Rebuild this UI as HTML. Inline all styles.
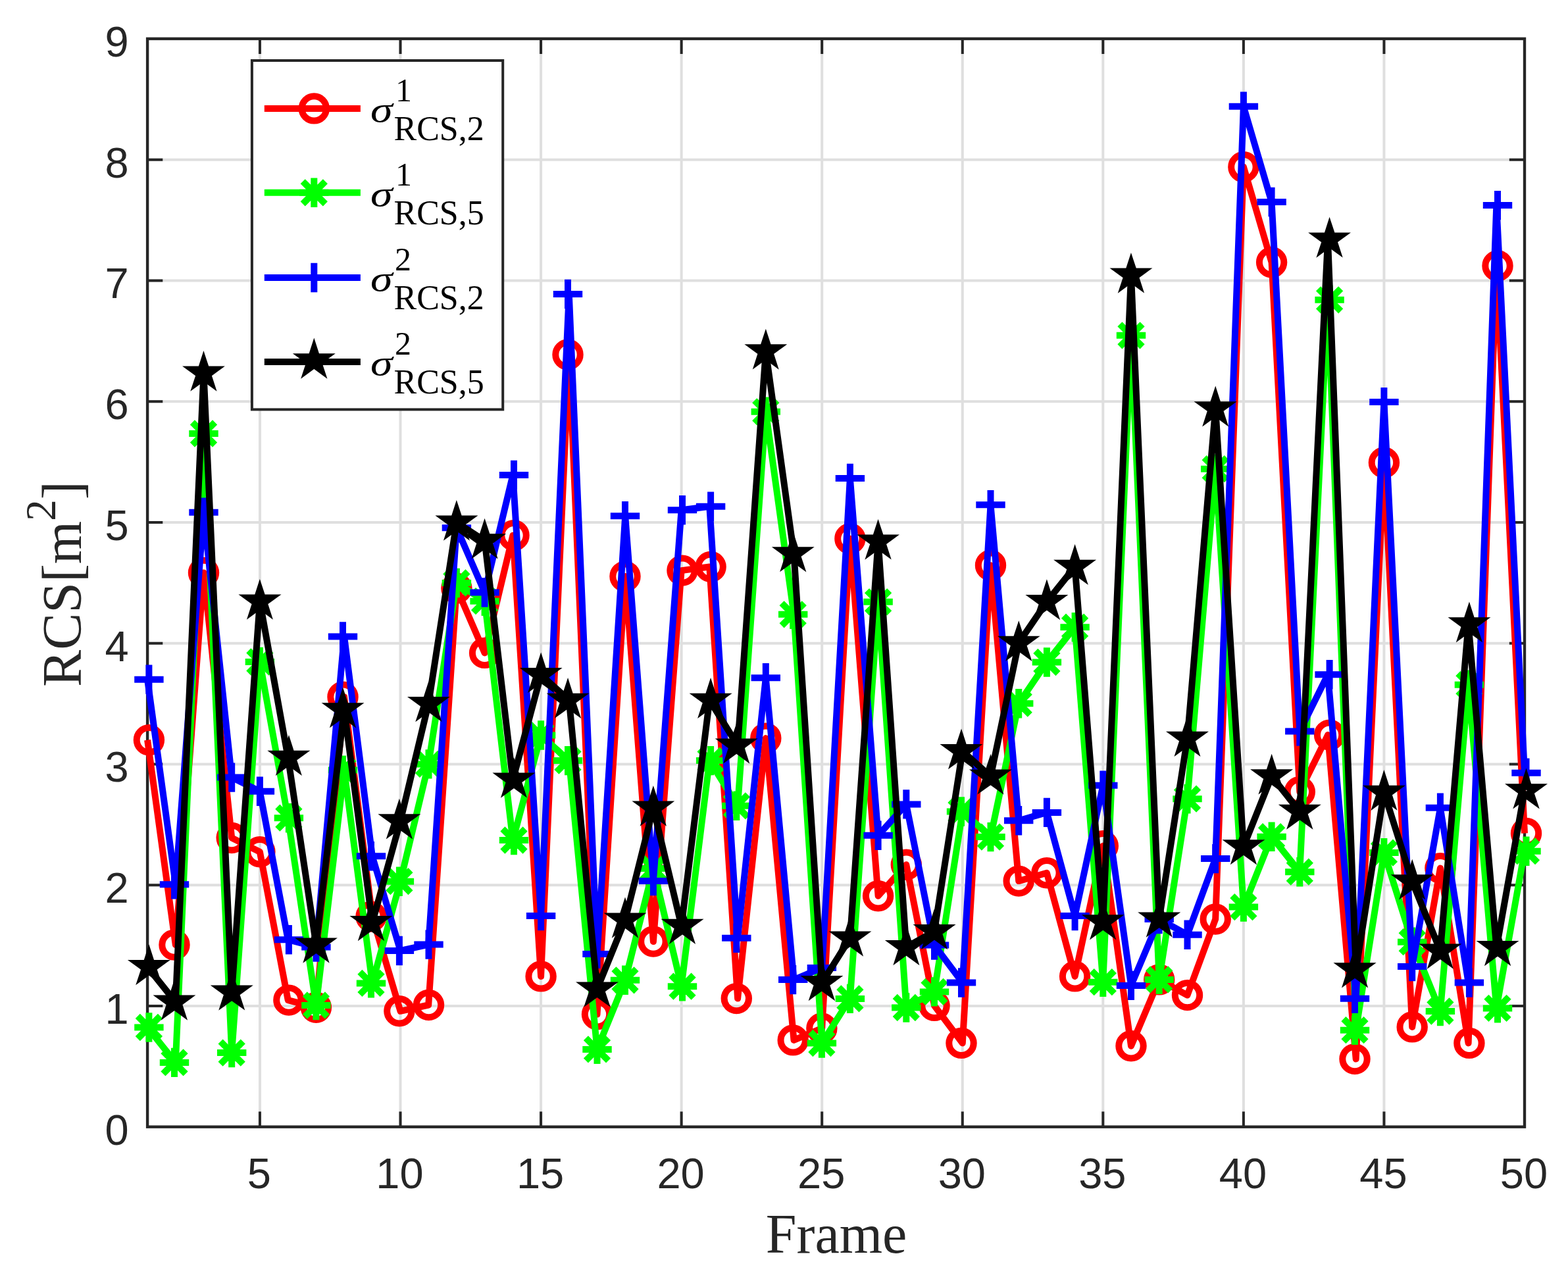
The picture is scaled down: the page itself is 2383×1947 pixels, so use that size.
<!DOCTYPE html>
<html><head><meta charset="utf-8"><title>RCS per frame</title>
<style>html,body{margin:0;padding:0;background:#fff}body{width:2383px;height:1947px;overflow:hidden}svg{display:block}text{fill:#262626}.tk{font-family:"Liberation Sans",sans-serif;font-size:65px}.lb{font-family:"Liberation Serif",serif;font-size:84px}.lg{font-family:"Liberation Serif",serif;fill:#000}</style>
</head><body>
<svg width="2383" height="1947" viewBox="0 0 2383 1947">
<rect x="0" y="0" width="2383" height="1947" fill="#fff"/>
<path d="M394.95 58.90V1712.70M608.51 58.90V1712.70M822.07 58.90V1712.70M1035.63 58.90V1712.70M1249.19 58.90V1712.70M1462.76 58.90V1712.70M1676.32 58.90V1712.70M1889.88 58.90V1712.70M2103.44 58.90V1712.70M224.10 1528.94H2317.00M224.10 1345.19H2317.00M224.10 1161.43H2317.00M224.10 977.68H2317.00M224.10 793.92H2317.00M224.10 610.17H2317.00M224.10 426.41H2317.00M224.10 242.66H2317.00" stroke="#dfdfdf" stroke-width="4" fill="none"/>
<path d="M394.95 1712.70v-23.20M394.95 58.90v23.20M608.51 1712.70v-23.20M608.51 58.90v23.20M822.07 1712.70v-23.20M822.07 58.90v23.20M1035.63 1712.70v-23.20M1035.63 58.90v23.20M1249.19 1712.70v-23.20M1249.19 58.90v23.20M1462.76 1712.70v-23.20M1462.76 58.90v23.20M1676.32 1712.70v-23.20M1676.32 58.90v23.20M1889.88 1712.70v-23.20M1889.88 58.90v23.20M2103.44 1712.70v-23.20M2103.44 58.90v23.20M224.10 1528.94h23.20M2317.00 1528.94h-23.20M224.10 1345.19h23.20M2317.00 1345.19h-23.20M224.10 1161.43h23.20M2317.00 1161.43h-23.20M224.10 977.68h23.20M2317.00 977.68h-23.20M224.10 793.92h23.20M2317.00 793.92h-23.20M224.10 610.17h23.20M2317.00 610.17h-23.20M224.10 426.41h23.20M2317.00 426.41h-23.20M224.10 242.66h23.20M2317.00 242.66h-23.20" stroke="#262626" stroke-width="4" fill="none"/>
<rect x="224.10" y="58.90" width="2092.90" height="1653.80" fill="none" stroke="#262626" stroke-width="4.4"/>
<g>
<polyline points="224.1,1124.7 266.8,1436.1 309.5,870.5 352.2,1273.5 394.9,1294.7 437.7,1520.1 480.4,1531.3 523.1,1059.3 565.8,1393.1 608.5,1536.8 651.2,1527.5 693.9,894.1 736.6,992.4 779.4,813.8 822.1,1483.9 864.8,538.9 907.5,1541.8 950.2,876.1 992.9,1431.0 1035.6,867.1 1078.3,861.5 1121.1,1517.6 1163.8,1122.1 1206.5,1580.9 1249.2,1562.9 1291.9,818.7 1334.6,1361.7 1377.3,1314.3 1420.0,1528.4 1462.8,1585.4 1505.5,859.2 1548.2,1339.1 1590.9,1326.8 1633.6,1483.9 1676.3,1285.7 1719.0,1589.8 1761.7,1488.9 1804.5,1512.6 1847.2,1397.0 1889.9,253.7 1932.6,398.8 1975.3,1203.5 2018.0,1117.1 2060.7,1609.6 2103.4,703.0 2146.2,1560.9 2188.9,1319.6 2231.6,1585.4 2274.3,404.0 2317.0,1266.5" fill="none" stroke="#ff0000" stroke-width="10.0" stroke-linejoin="round" stroke-linecap="butt"/>
<circle cx="226.4" cy="1124.7" r="18.7" fill="none" stroke="#ff0000" stroke-width="10.0"/>
<circle cx="265.0" cy="1436.1" r="18.7" fill="none" stroke="#ff0000" stroke-width="10.0"/>
<circle cx="309.5" cy="870.5" r="18.7" fill="none" stroke="#ff0000" stroke-width="10.0"/>
<circle cx="352.2" cy="1273.5" r="18.7" fill="none" stroke="#ff0000" stroke-width="10.0"/>
<circle cx="394.9" cy="1294.7" r="18.7" fill="none" stroke="#ff0000" stroke-width="10.0"/>
<circle cx="438.9" cy="1520.1" r="18.7" fill="none" stroke="#ff0000" stroke-width="10.0"/>
<circle cx="480.4" cy="1531.3" r="18.7" fill="none" stroke="#ff0000" stroke-width="10.0"/>
<circle cx="521.0" cy="1059.3" r="18.7" fill="none" stroke="#ff0000" stroke-width="10.0"/>
<circle cx="564.0" cy="1393.1" r="18.7" fill="none" stroke="#ff0000" stroke-width="10.0"/>
<circle cx="606.9" cy="1536.8" r="18.7" fill="none" stroke="#ff0000" stroke-width="10.0"/>
<circle cx="651.5" cy="1527.5" r="18.7" fill="none" stroke="#ff0000" stroke-width="10.0"/>
<circle cx="693.9" cy="894.1" r="18.7" fill="none" stroke="#ff0000" stroke-width="10.0"/>
<circle cx="736.6" cy="992.4" r="18.7" fill="none" stroke="#ff0000" stroke-width="10.0"/>
<circle cx="781.0" cy="813.8" r="18.7" fill="none" stroke="#ff0000" stroke-width="10.0"/>
<circle cx="822.1" cy="1483.9" r="18.7" fill="none" stroke="#ff0000" stroke-width="10.0"/>
<circle cx="863.0" cy="538.9" r="18.7" fill="none" stroke="#ff0000" stroke-width="10.0"/>
<circle cx="907.5" cy="1541.8" r="18.7" fill="none" stroke="#ff0000" stroke-width="10.0"/>
<circle cx="950.0" cy="876.1" r="18.7" fill="none" stroke="#ff0000" stroke-width="10.0"/>
<circle cx="992.9" cy="1431.0" r="18.7" fill="none" stroke="#ff0000" stroke-width="10.0"/>
<circle cx="1037.0" cy="867.1" r="18.7" fill="none" stroke="#ff0000" stroke-width="10.0"/>
<circle cx="1080.1" cy="861.5" r="18.7" fill="none" stroke="#ff0000" stroke-width="10.0"/>
<circle cx="1119.3" cy="1517.6" r="18.7" fill="none" stroke="#ff0000" stroke-width="10.0"/>
<circle cx="1163.8" cy="1122.1" r="18.7" fill="none" stroke="#ff0000" stroke-width="10.0"/>
<circle cx="1205.2" cy="1580.9" r="18.7" fill="none" stroke="#ff0000" stroke-width="10.0"/>
<circle cx="1248.9" cy="1562.9" r="18.7" fill="none" stroke="#ff0000" stroke-width="10.0"/>
<circle cx="1291.9" cy="818.7" r="18.7" fill="none" stroke="#ff0000" stroke-width="10.0"/>
<circle cx="1334.6" cy="1361.7" r="18.7" fill="none" stroke="#ff0000" stroke-width="10.0"/>
<circle cx="1377.3" cy="1314.3" r="18.7" fill="none" stroke="#ff0000" stroke-width="10.0"/>
<circle cx="1420.0" cy="1528.4" r="18.7" fill="none" stroke="#ff0000" stroke-width="10.0"/>
<circle cx="1461.0" cy="1585.4" r="18.7" fill="none" stroke="#ff0000" stroke-width="10.0"/>
<circle cx="1505.5" cy="859.2" r="18.7" fill="none" stroke="#ff0000" stroke-width="10.0"/>
<circle cx="1548.2" cy="1339.1" r="18.7" fill="none" stroke="#ff0000" stroke-width="10.0"/>
<circle cx="1590.9" cy="1326.8" r="18.7" fill="none" stroke="#ff0000" stroke-width="10.0"/>
<circle cx="1633.6" cy="1483.9" r="18.7" fill="none" stroke="#ff0000" stroke-width="10.0"/>
<circle cx="1676.3" cy="1285.7" r="18.7" fill="none" stroke="#ff0000" stroke-width="10.0"/>
<circle cx="1719.0" cy="1589.8" r="18.7" fill="none" stroke="#ff0000" stroke-width="10.0"/>
<circle cx="1761.7" cy="1488.9" r="18.7" fill="none" stroke="#ff0000" stroke-width="10.0"/>
<circle cx="1804.5" cy="1512.6" r="18.7" fill="none" stroke="#ff0000" stroke-width="10.0"/>
<circle cx="1847.2" cy="1397.0" r="18.7" fill="none" stroke="#ff0000" stroke-width="10.0"/>
<circle cx="1889.9" cy="253.7" r="18.7" fill="none" stroke="#ff0000" stroke-width="10.0"/>
<circle cx="1932.6" cy="398.8" r="18.7" fill="none" stroke="#ff0000" stroke-width="10.0"/>
<circle cx="1975.3" cy="1203.5" r="18.7" fill="none" stroke="#ff0000" stroke-width="10.0"/>
<circle cx="2020.6" cy="1117.1" r="18.7" fill="none" stroke="#ff0000" stroke-width="10.0"/>
<circle cx="2059.0" cy="1609.6" r="18.7" fill="none" stroke="#ff0000" stroke-width="10.0"/>
<circle cx="2103.4" cy="703.0" r="18.7" fill="none" stroke="#ff0000" stroke-width="10.0"/>
<circle cx="2146.2" cy="1560.9" r="18.7" fill="none" stroke="#ff0000" stroke-width="10.0"/>
<circle cx="2188.9" cy="1319.6" r="18.7" fill="none" stroke="#ff0000" stroke-width="10.0"/>
<circle cx="2232.9" cy="1585.4" r="18.7" fill="none" stroke="#ff0000" stroke-width="10.0"/>
<circle cx="2276.0" cy="404.0" r="18.7" fill="none" stroke="#ff0000" stroke-width="10.0"/>
<circle cx="2319.5" cy="1266.5" r="18.7" fill="none" stroke="#ff0000" stroke-width="10.0"/>
</g>
<g>
<polyline points="224.1,1561.5 266.8,1614.9 309.5,659.0 352.2,1600.1 394.9,1006.0 437.7,1243.2 480.4,1528.0 523.1,1170.6 565.8,1494.4 608.5,1339.7 651.2,1161.4 693.9,886.0 736.6,913.7 779.4,1277.0 822.1,1117.5 864.8,1156.1 907.5,1594.9 950.2,1489.8 992.9,1320.0 1035.6,1499.2 1078.3,1156.1 1121.1,1224.8 1163.8,625.8 1206.5,933.8 1249.2,1585.5 1291.9,1517.9 1334.6,914.8 1377.3,1531.5 1420.0,1507.4 1462.8,1233.5 1505.5,1272.1 1548.2,1069.2 1590.9,1006.5 1633.6,953.2 1676.3,1492.7 1719.0,509.8 1761.7,1488.9 1804.5,1214.2 1847.2,712.7 1889.9,1378.6 1932.6,1271.7 1975.3,1325.2 2018.0,455.8 2060.7,1565.7 2103.4,1296.1 2146.2,1431.7 2188.9,1537.0 2231.6,1040.7 2274.3,1532.4 2317.0,1293.7" fill="none" stroke="#00ff00" stroke-width="10.0" stroke-linejoin="round" stroke-linecap="butt"/>
<path d="M204.2 1561.5h44.4M226.4 1539.3v44.4M209.3 1544.4l34.2 34.2M209.3 1578.6l34.2 -34.2M242.8 1614.9h44.4M265.0 1592.7v44.4M247.9 1597.8l34.2 34.2M247.9 1632.0l34.2 -34.2M287.3 659.0h44.4M309.5 636.8v44.4M292.4 641.9l34.2 34.2M292.4 676.1l34.2 -34.2M330.0 1600.1h44.4M352.2 1577.9v44.4M335.1 1583.0l34.2 34.2M335.1 1617.2l34.2 -34.2M372.7 1006.0h44.4M394.9 983.8v44.4M377.8 988.9l34.2 34.2M377.8 1023.1l34.2 -34.2M416.7 1243.2h44.4M438.9 1221.0v44.4M421.8 1226.1l34.2 34.2M421.8 1260.3l34.2 -34.2M458.2 1528.0h44.4M480.4 1505.8v44.4M463.3 1510.9l34.2 34.2M463.3 1545.1l34.2 -34.2M498.8 1170.6h44.4M521.0 1148.4v44.4M503.9 1153.5l34.2 34.2M503.9 1187.7l34.2 -34.2M541.8 1494.4h44.4M564.0 1472.2v44.4M546.9 1477.3l34.2 34.2M546.9 1511.5l34.2 -34.2M584.7 1339.7h44.4M606.9 1317.5v44.4M589.8 1322.6l34.2 34.2M589.8 1356.8l34.2 -34.2M629.3 1161.4h44.4M651.5 1139.2v44.4M634.4 1144.3l34.2 34.2M634.4 1178.5l34.2 -34.2M671.7 886.0h44.4M693.9 863.8v44.4M676.8 868.9l34.2 34.2M676.8 903.1l34.2 -34.2M714.4 913.7h44.4M736.6 891.5v44.4M719.5 896.6l34.2 34.2M719.5 930.8l34.2 -34.2M758.8 1277.0h44.4M781.0 1254.8v44.4M763.9 1259.9l34.2 34.2M763.9 1294.1l34.2 -34.2M799.9 1117.5h44.4M822.1 1095.3v44.4M805.0 1100.4l34.2 34.2M805.0 1134.6l34.2 -34.2M840.8 1156.1h44.4M863.0 1133.9v44.4M845.9 1139.0l34.2 34.2M845.9 1173.2l34.2 -34.2M885.3 1594.9h44.4M907.5 1572.7v44.4M890.4 1577.8l34.2 34.2M890.4 1612.0l34.2 -34.2M927.8 1489.8h44.4M950.0 1467.6v44.4M932.9 1472.7l34.2 34.2M932.9 1506.9l34.2 -34.2M970.7 1320.0h44.4M992.9 1297.8v44.4M975.8 1302.9l34.2 34.2M975.8 1337.1l34.2 -34.2M1014.8 1499.2h44.4M1037.0 1477.0v44.4M1019.9 1482.1l34.2 34.2M1019.9 1516.3l34.2 -34.2M1057.9 1156.1h44.4M1080.1 1133.9v44.4M1063.0 1139.0l34.2 34.2M1063.0 1173.2l34.2 -34.2M1097.1 1224.8h44.4M1119.3 1202.6v44.4M1102.2 1207.7l34.2 34.2M1102.2 1241.9l34.2 -34.2M1141.6 625.8h44.4M1163.8 603.6v44.4M1146.7 608.7l34.2 34.2M1146.7 642.9l34.2 -34.2M1183.0 933.8h44.4M1205.2 911.6v44.4M1188.1 916.7l34.2 34.2M1188.1 950.9l34.2 -34.2M1226.7 1585.5h44.4M1248.9 1563.3v44.4M1231.8 1568.4l34.2 34.2M1231.8 1602.6l34.2 -34.2M1269.7 1517.9h44.4M1291.9 1495.7v44.4M1274.8 1500.8l34.2 34.2M1274.8 1535.0l34.2 -34.2M1312.4 914.8h44.4M1334.6 892.6v44.4M1317.5 897.7l34.2 34.2M1317.5 931.9l34.2 -34.2M1355.1 1531.5h44.4M1377.3 1509.3v44.4M1360.2 1514.4l34.2 34.2M1360.2 1548.6l34.2 -34.2M1397.8 1507.4h44.4M1420.0 1485.2v44.4M1402.9 1490.3l34.2 34.2M1402.9 1524.5l34.2 -34.2M1438.8 1233.5h44.4M1461.0 1211.3v44.4M1443.9 1216.4l34.2 34.2M1443.9 1250.6l34.2 -34.2M1483.3 1272.1h44.4M1505.5 1249.9v44.4M1488.4 1255.0l34.2 34.2M1488.4 1289.2l34.2 -34.2M1526.0 1069.2h44.4M1548.2 1047.0v44.4M1531.1 1052.1l34.2 34.2M1531.1 1086.3l34.2 -34.2M1568.7 1006.5h44.4M1590.9 984.3v44.4M1573.8 989.4l34.2 34.2M1573.8 1023.6l34.2 -34.2M1611.4 953.2h44.4M1633.6 931.0v44.4M1616.5 936.1l34.2 34.2M1616.5 970.3l34.2 -34.2M1654.1 1492.7h44.4M1676.3 1470.5v44.4M1659.2 1475.6l34.2 34.2M1659.2 1509.8l34.2 -34.2M1696.8 509.8h44.4M1719.0 487.6v44.4M1701.9 492.7l34.2 34.2M1701.9 526.9l34.2 -34.2M1739.5 1488.9h44.4M1761.7 1466.7v44.4M1744.6 1471.8l34.2 34.2M1744.6 1506.0l34.2 -34.2M1782.3 1214.2h44.4M1804.5 1192.0v44.4M1787.4 1197.1l34.2 34.2M1787.4 1231.3l34.2 -34.2M1825.0 712.7h44.4M1847.2 690.5v44.4M1830.1 695.6l34.2 34.2M1830.1 729.8l34.2 -34.2M1867.7 1378.6h44.4M1889.9 1356.4v44.4M1872.8 1361.5l34.2 34.2M1872.8 1395.7l34.2 -34.2M1910.4 1271.7h44.4M1932.6 1249.5v44.4M1915.5 1254.6l34.2 34.2M1915.5 1288.8l34.2 -34.2M1953.1 1325.2h44.4M1975.3 1303.0v44.4M1958.2 1308.1l34.2 34.2M1958.2 1342.3l34.2 -34.2M1998.4 455.8h44.4M2020.6 433.6v44.4M2003.5 438.7l34.2 34.2M2003.5 472.9l34.2 -34.2M2036.8 1565.7h44.4M2059.0 1543.5v44.4M2041.9 1548.6l34.2 34.2M2041.9 1582.8l34.2 -34.2M2081.2 1296.1h44.4M2103.4 1273.9v44.4M2086.3 1279.0l34.2 34.2M2086.3 1313.2l34.2 -34.2M2124.0 1431.7h44.4M2146.2 1409.5v44.4M2129.1 1414.6l34.2 34.2M2129.1 1448.8l34.2 -34.2M2166.7 1537.0h44.4M2188.9 1514.8v44.4M2171.8 1519.9l34.2 34.2M2171.8 1554.1l34.2 -34.2M2210.7 1040.7h44.4M2232.9 1018.5v44.4M2215.8 1023.6l34.2 34.2M2215.8 1057.8l34.2 -34.2M2253.8 1532.4h44.4M2276.0 1510.2v44.4M2258.9 1515.3l34.2 34.2M2258.9 1549.5l34.2 -34.2M2297.3 1293.7h44.4M2319.5 1271.5v44.4M2302.4 1276.6l34.2 34.2M2302.4 1310.8l34.2 -34.2" stroke="#00ff00" stroke-width="10.0" fill="none"/>
</g>
<g>
<polyline points="224.1,1032.8 266.8,1344.3 309.5,778.7 352.2,1181.6 394.9,1202.8 437.7,1428.2 480.4,1439.5 523.1,967.4 565.8,1301.3 608.5,1445.0 651.2,1435.6 693.9,802.2 736.6,900.5 779.4,721.9 822.1,1392.0 864.8,447.0 907.5,1449.9 950.2,784.2 992.9,1339.1 1035.6,775.2 1078.3,769.7 1121.1,1425.7 1163.8,1030.2 1206.5,1489.1 1249.2,1471.1 1291.9,726.9 1334.6,1269.8 1377.3,1222.4 1420.0,1436.5 1462.8,1493.5 1505.5,767.3 1548.2,1247.2 1590.9,1234.9 1633.6,1392.0 1676.3,1193.8 1719.0,1497.9 1761.7,1397.0 1804.5,1420.7 1847.2,1305.1 1889.9,161.8 1932.6,307.0 1975.3,1111.6 2018.0,1025.3 2060.7,1517.7 2103.4,611.1 2146.2,1469.0 2188.9,1227.8 2231.6,1493.5 2274.3,312.1 2317.0,1174.7" fill="none" stroke="#0000ff" stroke-width="10.0" stroke-linejoin="round" stroke-linecap="butt"/>
<path d="M204.2 1032.8h44.4M226.4 1010.6v44.4M242.8 1344.3h44.4M265.0 1322.1v44.4M287.3 778.7h44.4M309.5 756.5v44.4M330.0 1181.6h44.4M352.2 1159.4v44.4M372.7 1202.8h44.4M394.9 1180.6v44.4M416.7 1428.2h44.4M438.9 1406.0v44.4M458.2 1439.5h44.4M480.4 1417.3v44.4M498.8 967.4h44.4M521.0 945.2v44.4M541.8 1301.3h44.4M564.0 1279.1v44.4M584.7 1445.0h44.4M606.9 1422.8v44.4M629.3 1435.6h44.4M651.5 1413.4v44.4M671.7 802.2h44.4M693.9 780.0v44.4M714.4 900.5h44.4M736.6 878.3v44.4M758.8 721.9h44.4M781.0 699.7v44.4M799.9 1392.0h44.4M822.1 1369.8v44.4M840.8 447.0h44.4M863.0 424.8v44.4M885.3 1449.9h44.4M907.5 1427.7v44.4M927.8 784.2h44.4M950.0 762.0v44.4M970.7 1339.1h44.4M992.9 1316.9v44.4M1014.8 775.2h44.4M1037.0 753.0v44.4M1057.9 769.7h44.4M1080.1 747.5v44.4M1097.1 1425.7h44.4M1119.3 1403.5v44.4M1141.6 1030.2h44.4M1163.8 1008.0v44.4M1183.0 1489.1h44.4M1205.2 1466.9v44.4M1226.7 1471.1h44.4M1248.9 1448.9v44.4M1269.7 726.9h44.4M1291.9 704.7v44.4M1312.4 1269.8h44.4M1334.6 1247.6v44.4M1355.1 1222.4h44.4M1377.3 1200.2v44.4M1397.8 1436.5h44.4M1420.0 1414.3v44.4M1438.8 1493.5h44.4M1461.0 1471.3v44.4M1483.3 767.3h44.4M1505.5 745.1v44.4M1526.0 1247.2h44.4M1548.2 1225.0v44.4M1568.7 1234.9h44.4M1590.9 1212.7v44.4M1611.4 1392.0h44.4M1633.6 1369.8v44.4M1654.1 1193.8h44.4M1676.3 1171.6v44.4M1696.8 1497.9h44.4M1719.0 1475.7v44.4M1739.5 1397.0h44.4M1761.7 1374.8v44.4M1782.3 1420.7h44.4M1804.5 1398.5v44.4M1825.0 1305.1h44.4M1847.2 1282.9v44.4M1867.7 161.8h44.4M1889.9 139.6v44.4M1910.4 307.0h44.4M1932.6 284.8v44.4M1953.1 1111.6h44.4M1975.3 1089.4v44.4M1998.4 1025.3h44.4M2020.6 1003.1v44.4M2036.8 1517.7h44.4M2059.0 1495.5v44.4M2081.2 611.1h44.4M2103.4 588.9v44.4M2124.0 1469.0h44.4M2146.2 1446.8v44.4M2166.7 1227.8h44.4M2188.9 1205.6v44.4M2210.7 1493.5h44.4M2232.9 1471.3v44.4M2253.8 312.1h44.4M2276.0 289.9v44.4M2297.3 1174.7h44.4M2319.5 1152.5v44.4" stroke="#0000ff" stroke-width="10.0" fill="none"/>
</g>
<g>
<polyline points="224.1,1469.6 266.8,1523.1 309.5,567.2 352.2,1508.2 394.9,914.1 437.7,1151.3 480.4,1436.1 523.1,1078.7 565.8,1402.5 608.5,1247.8 651.2,1069.6 693.9,794.1 736.6,821.9 779.4,1185.1 822.1,1025.6 864.8,1064.2 907.5,1503.0 950.2,1397.9 992.9,1228.1 1035.6,1407.3 1078.3,1064.2 1121.1,1133.0 1163.8,533.9 1206.5,841.9 1249.2,1493.7 1291.9,1426.0 1334.6,823.0 1377.3,1439.6 1420.0,1415.6 1462.8,1141.6 1505.5,1180.2 1548.2,977.3 1590.9,914.6 1633.6,861.4 1676.3,1400.9 1719.0,418.0 1761.7,1397.0 1804.5,1122.3 1847.2,620.8 1889.9,1286.8 1932.6,1179.8 1975.3,1233.3 2018.0,363.9 2060.7,1473.8 2103.4,1204.2 2146.2,1339.9 2188.9,1445.2 2231.6,948.8 2274.3,1440.6 2317.0,1201.9" fill="none" stroke="#000000" stroke-width="10.0" stroke-linejoin="round" stroke-linecap="butt"/>
<polygon points="226.4,1451.6 230.4,1464.0 243.5,1464.0 232.9,1471.7 237.0,1484.2 226.4,1476.5 215.8,1484.2 219.9,1471.7 209.3,1464.0 222.4,1464.0" fill="none" stroke="#000000" stroke-width="10.0" stroke-linejoin="miter" stroke-miterlimit="5"/>
<polygon points="265.0,1505.1 269.1,1517.5 282.1,1517.5 271.6,1525.2 275.6,1537.6 265.0,1529.9 254.4,1537.6 258.5,1525.2 247.9,1517.5 261.0,1517.5" fill="none" stroke="#000000" stroke-width="10.0" stroke-linejoin="miter" stroke-miterlimit="5"/>
<polygon points="309.5,549.2 313.6,561.6 326.6,561.6 316.1,569.3 320.1,581.7 309.5,574.0 298.9,581.7 303.0,569.3 292.4,561.6 305.5,561.6" fill="none" stroke="#000000" stroke-width="10.0" stroke-linejoin="miter" stroke-miterlimit="5"/>
<polygon points="352.2,1490.2 356.3,1502.6 369.4,1502.6 358.8,1510.3 362.8,1522.7 352.2,1515.1 341.7,1522.7 345.7,1510.3 335.1,1502.6 348.2,1502.6" fill="none" stroke="#000000" stroke-width="10.0" stroke-linejoin="miter" stroke-miterlimit="5"/>
<polygon points="394.9,896.1 399.0,908.5 412.1,908.5 401.5,916.2 405.5,928.7 394.9,921.0 384.4,928.7 388.4,916.2 377.8,908.5 390.9,908.5" fill="none" stroke="#000000" stroke-width="10.0" stroke-linejoin="miter" stroke-miterlimit="5"/>
<polygon points="438.9,1133.3 442.9,1145.8 456.0,1145.8 445.4,1153.5 449.4,1165.9 438.9,1158.2 428.3,1165.9 432.3,1153.5 421.7,1145.8 434.8,1145.8" fill="none" stroke="#000000" stroke-width="10.0" stroke-linejoin="miter" stroke-miterlimit="5"/>
<polygon points="480.4,1418.1 484.4,1430.6 497.5,1430.6 486.9,1438.3 491.0,1450.7 480.4,1443.0 469.8,1450.7 473.8,1438.3 463.3,1430.6 476.3,1430.6" fill="none" stroke="#000000" stroke-width="10.0" stroke-linejoin="miter" stroke-miterlimit="5"/>
<polygon points="521.0,1060.7 525.0,1073.2 538.1,1073.2 527.5,1080.9 531.6,1093.3 521.0,1085.6 510.4,1093.3 514.4,1080.9 503.9,1073.2 516.9,1073.2" fill="none" stroke="#000000" stroke-width="10.0" stroke-linejoin="miter" stroke-miterlimit="5"/>
<polygon points="564.0,1384.5 568.0,1397.0 581.1,1397.0 570.5,1404.6 574.6,1417.1 564.0,1409.4 553.4,1417.1 557.5,1404.6 546.9,1397.0 560.0,1397.0" fill="none" stroke="#000000" stroke-width="10.0" stroke-linejoin="miter" stroke-miterlimit="5"/>
<polygon points="606.9,1229.8 611.0,1242.2 624.0,1242.2 613.4,1249.9 617.5,1262.4 606.9,1254.7 596.3,1262.4 600.4,1249.9 589.8,1242.2 602.9,1242.2" fill="none" stroke="#000000" stroke-width="10.0" stroke-linejoin="miter" stroke-miterlimit="5"/>
<polygon points="651.5,1051.6 655.6,1064.0 668.6,1064.0 658.1,1071.7 662.1,1084.1 651.5,1076.4 640.9,1084.1 645.0,1071.7 634.4,1064.0 647.5,1064.0" fill="none" stroke="#000000" stroke-width="10.0" stroke-linejoin="miter" stroke-miterlimit="5"/>
<polygon points="693.9,776.1 698.0,788.5 711.1,788.5 700.5,796.2 704.5,808.7 693.9,801.0 683.4,808.7 687.4,796.2 676.8,788.5 689.9,788.5" fill="none" stroke="#000000" stroke-width="10.0" stroke-linejoin="miter" stroke-miterlimit="5"/>
<polygon points="736.6,803.9 740.7,816.3 753.8,816.3 743.2,824.0 747.2,836.4 736.6,828.7 726.1,836.4 730.1,824.0 719.5,816.3 732.6,816.3" fill="none" stroke="#000000" stroke-width="10.0" stroke-linejoin="miter" stroke-miterlimit="5"/>
<polygon points="781.0,1167.1 785.0,1179.6 798.1,1179.6 787.5,1187.3 791.5,1199.7 781.0,1192.0 770.4,1199.7 774.4,1187.3 763.8,1179.6 776.9,1179.6" fill="none" stroke="#000000" stroke-width="10.0" stroke-linejoin="miter" stroke-miterlimit="5"/>
<polygon points="822.1,1007.6 826.1,1020.1 839.2,1020.1 828.6,1027.8 832.7,1040.2 822.1,1032.5 811.5,1040.2 815.5,1027.8 805.0,1020.1 818.0,1020.1" fill="none" stroke="#000000" stroke-width="10.0" stroke-linejoin="miter" stroke-miterlimit="5"/>
<polygon points="863.0,1046.2 867.0,1058.7 880.1,1058.7 869.5,1066.4 873.6,1078.8 863.0,1071.1 852.4,1078.8 856.4,1066.4 845.9,1058.7 858.9,1058.7" fill="none" stroke="#000000" stroke-width="10.0" stroke-linejoin="miter" stroke-miterlimit="5"/>
<polygon points="907.5,1485.0 911.5,1497.5 924.6,1497.5 914.0,1505.2 918.1,1517.6 907.5,1509.9 896.9,1517.6 901.0,1505.2 890.4,1497.5 903.5,1497.5" fill="none" stroke="#000000" stroke-width="10.0" stroke-linejoin="miter" stroke-miterlimit="5"/>
<polygon points="950.0,1379.9 954.0,1392.4 967.1,1392.4 956.5,1400.1 960.6,1412.5 950.0,1404.8 939.4,1412.5 943.5,1400.1 932.9,1392.4 946.0,1392.4" fill="none" stroke="#000000" stroke-width="10.0" stroke-linejoin="miter" stroke-miterlimit="5"/>
<polygon points="992.9,1210.1 997.0,1222.6 1010.0,1222.6 999.5,1230.3 1003.5,1242.7 992.9,1235.0 982.3,1242.7 986.4,1230.3 975.8,1222.6 988.9,1222.6" fill="none" stroke="#000000" stroke-width="10.0" stroke-linejoin="miter" stroke-miterlimit="5"/>
<polygon points="1037.0,1389.3 1041.1,1401.7 1054.2,1401.7 1043.6,1409.4 1047.6,1421.9 1037.0,1414.2 1026.5,1421.9 1030.5,1409.4 1019.9,1401.7 1033.0,1401.7" fill="none" stroke="#000000" stroke-width="10.0" stroke-linejoin="miter" stroke-miterlimit="5"/>
<polygon points="1080.1,1046.2 1084.2,1058.7 1097.3,1058.7 1086.7,1066.4 1090.7,1078.8 1080.1,1071.1 1069.6,1078.8 1073.6,1066.4 1063.0,1058.7 1076.1,1058.7" fill="none" stroke="#000000" stroke-width="10.0" stroke-linejoin="miter" stroke-miterlimit="5"/>
<polygon points="1119.3,1115.0 1123.3,1127.4 1136.4,1127.4 1125.8,1135.1 1129.8,1147.5 1119.3,1139.8 1108.7,1147.5 1112.7,1135.1 1102.1,1127.4 1115.2,1127.4" fill="none" stroke="#000000" stroke-width="10.0" stroke-linejoin="miter" stroke-miterlimit="5"/>
<polygon points="1163.8,515.9 1167.8,528.3 1180.9,528.3 1170.3,536.0 1174.3,548.5 1163.8,540.8 1153.2,548.5 1157.2,536.0 1146.7,528.3 1159.7,528.3" fill="none" stroke="#000000" stroke-width="10.0" stroke-linejoin="miter" stroke-miterlimit="5"/>
<polygon points="1205.2,823.9 1209.2,836.3 1222.3,836.3 1211.7,844.0 1215.8,856.4 1205.2,848.8 1194.6,856.4 1198.6,844.0 1188.1,836.3 1201.1,836.3" fill="none" stroke="#000000" stroke-width="10.0" stroke-linejoin="miter" stroke-miterlimit="5"/>
<polygon points="1248.9,1475.7 1252.9,1488.1 1266.0,1488.1 1255.4,1495.8 1259.5,1508.2 1248.9,1500.5 1238.3,1508.2 1242.4,1495.8 1231.8,1488.1 1244.9,1488.1" fill="none" stroke="#000000" stroke-width="10.0" stroke-linejoin="miter" stroke-miterlimit="5"/>
<polygon points="1291.9,1408.0 1295.9,1420.5 1309.0,1420.5 1298.4,1428.2 1302.5,1440.6 1291.9,1432.9 1281.3,1440.6 1285.4,1428.2 1274.8,1420.5 1287.9,1420.5" fill="none" stroke="#000000" stroke-width="10.0" stroke-linejoin="miter" stroke-miterlimit="5"/>
<polygon points="1334.6,805.0 1338.7,817.4 1351.7,817.4 1341.2,825.1 1345.2,837.5 1334.6,829.8 1324.0,837.5 1328.1,825.1 1317.5,817.4 1330.6,817.4" fill="none" stroke="#000000" stroke-width="10.0" stroke-linejoin="miter" stroke-miterlimit="5"/>
<polygon points="1377.3,1421.6 1381.4,1434.1 1394.4,1434.1 1383.9,1441.8 1387.9,1454.2 1377.3,1446.5 1366.8,1454.2 1370.8,1441.8 1360.2,1434.1 1373.3,1434.1" fill="none" stroke="#000000" stroke-width="10.0" stroke-linejoin="miter" stroke-miterlimit="5"/>
<polygon points="1420.0,1397.6 1424.1,1410.0 1437.2,1410.0 1426.6,1417.7 1430.6,1430.1 1420.0,1422.4 1409.5,1430.1 1413.5,1417.7 1402.9,1410.0 1416.0,1410.0" fill="none" stroke="#000000" stroke-width="10.0" stroke-linejoin="miter" stroke-miterlimit="5"/>
<polygon points="1461.0,1123.6 1465.0,1136.0 1478.1,1136.0 1467.5,1143.7 1471.5,1156.2 1461.0,1148.5 1450.4,1156.2 1454.4,1143.7 1443.8,1136.0 1456.9,1136.0" fill="none" stroke="#000000" stroke-width="10.0" stroke-linejoin="miter" stroke-miterlimit="5"/>
<polygon points="1505.5,1162.2 1509.5,1174.6 1522.6,1174.6 1512.0,1182.3 1516.0,1194.7 1505.5,1187.1 1494.9,1194.7 1498.9,1182.3 1488.3,1174.6 1501.4,1174.6" fill="none" stroke="#000000" stroke-width="10.0" stroke-linejoin="miter" stroke-miterlimit="5"/>
<polygon points="1548.2,959.3 1552.2,971.7 1565.3,971.7 1554.7,979.4 1558.8,991.9 1548.2,984.2 1537.6,991.9 1541.6,979.4 1531.1,971.7 1544.1,971.7" fill="none" stroke="#000000" stroke-width="10.0" stroke-linejoin="miter" stroke-miterlimit="5"/>
<polygon points="1590.9,896.6 1594.9,909.1 1608.0,909.1 1597.4,916.8 1601.5,929.2 1590.9,921.5 1580.3,929.2 1584.4,916.8 1573.8,909.1 1586.9,909.1" fill="none" stroke="#000000" stroke-width="10.0" stroke-linejoin="miter" stroke-miterlimit="5"/>
<polygon points="1633.6,843.4 1637.6,855.8 1650.7,855.8 1640.1,863.5 1644.2,875.9 1633.6,868.2 1623.0,875.9 1627.1,863.5 1616.5,855.8 1629.6,855.8" fill="none" stroke="#000000" stroke-width="10.0" stroke-linejoin="miter" stroke-miterlimit="5"/>
<polygon points="1676.3,1382.9 1680.4,1395.3 1693.4,1395.3 1682.9,1403.0 1686.9,1415.4 1676.3,1407.7 1665.7,1415.4 1669.8,1403.0 1659.2,1395.3 1672.3,1395.3" fill="none" stroke="#000000" stroke-width="10.0" stroke-linejoin="miter" stroke-miterlimit="5"/>
<polygon points="1719.0,400.0 1723.1,412.4 1736.1,412.4 1725.6,420.1 1729.6,432.5 1719.0,424.8 1708.4,432.5 1712.5,420.1 1701.9,412.4 1715.0,412.4" fill="none" stroke="#000000" stroke-width="10.0" stroke-linejoin="miter" stroke-miterlimit="5"/>
<polygon points="1761.7,1379.0 1765.8,1391.4 1778.9,1391.4 1768.3,1399.1 1772.3,1411.6 1761.7,1403.9 1751.2,1411.6 1755.2,1399.1 1744.6,1391.4 1757.7,1391.4" fill="none" stroke="#000000" stroke-width="10.0" stroke-linejoin="miter" stroke-miterlimit="5"/>
<polygon points="1804.5,1104.3 1808.5,1116.7 1821.6,1116.7 1811.0,1124.4 1815.0,1136.9 1804.5,1129.2 1793.9,1136.9 1797.9,1124.4 1787.3,1116.7 1800.4,1116.7" fill="none" stroke="#000000" stroke-width="10.0" stroke-linejoin="miter" stroke-miterlimit="5"/>
<polygon points="1847.2,602.8 1851.2,615.3 1864.3,615.3 1853.7,622.9 1857.7,635.4 1847.2,627.7 1836.6,635.4 1840.6,622.9 1830.0,615.3 1843.1,615.3" fill="none" stroke="#000000" stroke-width="10.0" stroke-linejoin="miter" stroke-miterlimit="5"/>
<polygon points="1889.9,1268.8 1893.9,1281.2 1907.0,1281.2 1896.4,1288.9 1900.5,1301.3 1889.9,1293.6 1879.3,1301.3 1883.3,1288.9 1872.8,1281.2 1885.8,1281.2" fill="none" stroke="#000000" stroke-width="10.0" stroke-linejoin="miter" stroke-miterlimit="5"/>
<polygon points="1932.6,1161.8 1936.6,1174.2 1949.7,1174.2 1939.1,1181.9 1943.2,1194.4 1932.6,1186.7 1922.0,1194.4 1926.1,1181.9 1915.5,1174.2 1928.5,1174.2" fill="none" stroke="#000000" stroke-width="10.0" stroke-linejoin="miter" stroke-miterlimit="5"/>
<polygon points="1975.3,1215.3 1979.3,1227.7 1992.4,1227.7 1981.8,1235.4 1985.9,1247.8 1975.3,1240.2 1964.7,1247.8 1968.8,1235.4 1958.2,1227.7 1971.3,1227.7" fill="none" stroke="#000000" stroke-width="10.0" stroke-linejoin="miter" stroke-miterlimit="5"/>
<polygon points="2020.6,345.9 2024.7,358.4 2037.7,358.4 2027.2,366.1 2031.2,378.5 2020.6,370.8 2010.0,378.5 2014.1,366.1 2003.5,358.4 2016.6,358.4" fill="none" stroke="#000000" stroke-width="10.0" stroke-linejoin="miter" stroke-miterlimit="5"/>
<polygon points="2059.0,1455.8 2063.0,1468.3 2076.1,1468.3 2065.5,1475.9 2069.6,1488.4 2059.0,1480.7 2048.4,1488.4 2052.4,1475.9 2041.9,1468.3 2054.9,1468.3" fill="none" stroke="#000000" stroke-width="10.0" stroke-linejoin="miter" stroke-miterlimit="5"/>
<polygon points="2103.4,1186.2 2107.5,1198.7 2120.6,1198.7 2110.0,1206.4 2114.0,1218.8 2103.4,1211.1 2092.9,1218.8 2096.9,1206.4 2086.3,1198.7 2099.4,1198.7" fill="none" stroke="#000000" stroke-width="10.0" stroke-linejoin="miter" stroke-miterlimit="5"/>
<polygon points="2146.2,1321.9 2150.2,1334.3 2163.3,1334.3 2152.7,1342.0 2156.7,1354.4 2146.2,1346.7 2135.6,1354.4 2139.6,1342.0 2129.0,1334.3 2142.1,1334.3" fill="none" stroke="#000000" stroke-width="10.0" stroke-linejoin="miter" stroke-miterlimit="5"/>
<polygon points="2188.9,1427.2 2192.9,1439.6 2206.0,1439.6 2195.4,1447.3 2199.4,1459.7 2188.9,1452.0 2178.3,1459.7 2182.3,1447.3 2171.7,1439.6 2184.8,1439.6" fill="none" stroke="#000000" stroke-width="10.0" stroke-linejoin="miter" stroke-miterlimit="5"/>
<polygon points="2232.9,930.8 2236.9,943.3 2250.0,943.3 2239.4,951.0 2243.5,963.4 2232.9,955.7 2222.3,963.4 2226.3,951.0 2215.8,943.3 2228.8,943.3" fill="none" stroke="#000000" stroke-width="10.0" stroke-linejoin="miter" stroke-miterlimit="5"/>
<polygon points="2276.0,1422.6 2280.0,1435.0 2293.1,1435.0 2282.5,1442.7 2286.6,1455.1 2276.0,1447.4 2265.4,1455.1 2269.4,1442.7 2258.9,1435.0 2271.9,1435.0" fill="none" stroke="#000000" stroke-width="10.0" stroke-linejoin="miter" stroke-miterlimit="5"/>
<polygon points="2319.5,1183.9 2323.5,1196.3 2336.6,1196.3 2326.0,1204.0 2330.1,1216.4 2319.5,1208.7 2308.9,1216.4 2313.0,1204.0 2302.4,1196.3 2315.5,1196.3" fill="none" stroke="#000000" stroke-width="10.0" stroke-linejoin="miter" stroke-miterlimit="5"/>
</g>
<text class="tk" x="393.9" y="1806" text-anchor="middle">5</text>
<text class="tk" x="607.5" y="1806" text-anchor="middle">10</text>
<text class="tk" x="821.1" y="1806" text-anchor="middle">15</text>
<text class="tk" x="1034.6" y="1806" text-anchor="middle">20</text>
<text class="tk" x="1248.2" y="1806" text-anchor="middle">25</text>
<text class="tk" x="1461.8" y="1806" text-anchor="middle">30</text>
<text class="tk" x="1675.3" y="1806" text-anchor="middle">35</text>
<text class="tk" x="1888.9" y="1806" text-anchor="middle">40</text>
<text class="tk" x="2102.4" y="1806" text-anchor="middle">45</text>
<text class="tk" x="2316.0" y="1806" text-anchor="middle">50</text>
<text class="tk" x="195.7" y="1739.5" text-anchor="end">0</text>
<text class="tk" x="195.7" y="1555.7" text-anchor="end">1</text>
<text class="tk" x="195.7" y="1372.0" text-anchor="end">2</text>
<text class="tk" x="195.7" y="1188.2" text-anchor="end">3</text>
<text class="tk" x="195.7" y="1004.5" text-anchor="end">4</text>
<text class="tk" x="195.7" y="820.7" text-anchor="end">5</text>
<text class="tk" x="195.7" y="637.0" text-anchor="end">6</text>
<text class="tk" x="195.7" y="453.2" text-anchor="end">7</text>
<text class="tk" x="195.7" y="269.5" text-anchor="end">8</text>
<text class="tk" x="195.7" y="85.7" text-anchor="end">9</text>
<text class="lb" x="1271.0" y="1903.7" text-anchor="middle">Frame</text>
<text class="lb" transform="translate(123.3 887.6) rotate(-90)" text-anchor="middle">RCS[m<tspan font-size="65px" dy="-39">2</tspan><tspan dy="39">]</tspan></text>
<rect x="382.9" y="92.0" width="381.3" height="530.4" fill="#fff" stroke="#262626" stroke-width="4"/>
<path d="M401.8 164.9H547.9" stroke="#ff0000" stroke-width="10.0" fill="none"/>
<circle cx="477.3" cy="164.9" r="18.7" fill="none" stroke="#ff0000" stroke-width="10.0"/>
<text class="lg" transform="translate(563 184.6) scale(1.24 1)" font-size="55px" font-style="italic">σ</text>
<text class="lg" x="601.0" y="153.9" font-size="50px">1</text>
<text class="lg" x="598.5" y="212.9" font-size="52px">RCS,2</text>
<path d="M401.8 292.8H547.9" stroke="#00ff00" stroke-width="10.0" fill="none"/>
<path d="M455.1 292.8h44.4M477.3 270.6v44.4M460.2 275.7l34.2 34.2M460.2 309.9l34.2 -34.2" stroke="#00ff00" stroke-width="10.0" fill="none"/>
<text class="lg" transform="translate(563 312.5) scale(1.24 1)" font-size="55px" font-style="italic">σ</text>
<text class="lg" x="601.0" y="281.8" font-size="50px">1</text>
<text class="lg" x="598.5" y="340.8" font-size="52px">RCS,5</text>
<path d="M401.8 422.0H547.9" stroke="#0000ff" stroke-width="10.0" fill="none"/>
<path d="M455.1 422.0h44.4M477.3 399.8v44.4" stroke="#0000ff" stroke-width="10.0" fill="none"/>
<text class="lg" transform="translate(563 441.7) scale(1.24 1)" font-size="55px" font-style="italic">σ</text>
<text class="lg" x="600.0" y="411.0" font-size="50px">2</text>
<text class="lg" x="598.5" y="470.0" font-size="52px">RCS,2</text>
<path d="M401.8 549.9H547.9" stroke="#000000" stroke-width="10.0" fill="none"/>
<polygon points="477.3,529.9 481.3,542.3 494.4,542.3 483.8,550.0 487.9,562.5 477.3,554.8 466.7,562.5 470.8,550.0 460.2,542.3 473.3,542.3" fill="none" stroke="#000000" stroke-width="10.0" stroke-linejoin="miter" stroke-miterlimit="5"/>
<text class="lg" transform="translate(563 569.6) scale(1.24 1)" font-size="55px" font-style="italic">σ</text>
<text class="lg" x="600.0" y="538.9" font-size="50px">2</text>
<text class="lg" x="598.5" y="597.9" font-size="52px">RCS,5</text>
</svg></body></html>
